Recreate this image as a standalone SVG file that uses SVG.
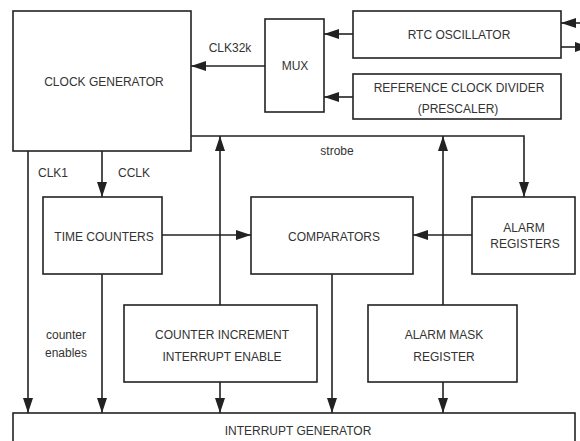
<svg xmlns="http://www.w3.org/2000/svg" width="580" height="441" viewBox="0 0 580 441">
<style>
.box{fill:#fff;stroke:#222;stroke-width:1.6}
.ln{fill:none;stroke:#222;stroke-width:1.6}
.t{font-family:"Liberation Sans",Arial,sans-serif;font-size:12px;fill:#333;text-anchor:middle}
</style>
<defs>
<marker id="ah" viewBox="0 0 15 10" refX="15" refY="5" markerWidth="15" markerHeight="10" orient="auto" markerUnits="userSpaceOnUse">
<path d="M0,0 L15,5 L0,10 z" fill="#222"/>
</marker>
</defs>
<rect width="580" height="441" fill="#fff"/>
<g id="connectors">
<path class="ln" d="M265,66 L191,66" marker-end="url(#ah)"/>
<path class="ln" d="M353,34 L324,34" marker-end="url(#ah)"/>
<path class="ln" d="M353,97 L324,97" marker-end="url(#ah)"/>
<path class="ln" d="M580,23 L561,23" marker-end="url(#ah)"/>
<path class="ln" d="M561,47 L590,47" marker-end="url(#ah)"/>
<path class="ln" d="M191,136 L524,136 L524,197" marker-end="url(#ah)"/>
<path class="ln" d="M102,151 L102,197" marker-end="url(#ah)"/>
<path class="ln" d="M28,151 L28,413" marker-end="url(#ah)"/>
<path class="ln" d="M162,235 L251,235" marker-end="url(#ah)"/>
<path class="ln" d="M472,235 L413,235" marker-end="url(#ah)"/>
<path class="ln" d="M220,305 L220,136" marker-end="url(#ah)"/>
<path class="ln" d="M443,305 L443,136" marker-end="url(#ah)"/>
<path class="ln" d="M102,274 L102,413" marker-end="url(#ah)"/>
<path class="ln" d="M220,382 L220,413" marker-end="url(#ah)"/>
<path class="ln" d="M332,274 L332,413" marker-end="url(#ah)"/>
<path class="ln" d="M443,382 L443,413" marker-end="url(#ah)"/>
<text class="t" x="230" y="52">CLK32k</text>
<text class="t" x="337" y="155">strobe</text>
<text class="t" x="53" y="177">CLK1</text>
<text class="t" x="134" y="177">CCLK</text>
<text class="t" x="66" y="339">counter</text>
<text class="t" x="66" y="357">enables</text>
</g>
<g id="clock-generator">
<rect class="box" x="13" y="11" width="178" height="140"/>
<text class="t" x="104" y="86">CLOCK GENERATOR</text>
</g>
<g id="mux">
<rect class="box" x="265" y="19" width="59" height="93"/>
<text class="t" x="295" y="70">MUX</text>
</g>
<g id="rtc-oscillator">
<rect class="box" x="353" y="11" width="208" height="47"/>
<text class="t" x="459" y="39">RTC OSCILLATOR</text>
</g>
<g id="reference-clock-divider">
<rect class="box" x="353" y="74" width="208" height="45"/>
<text class="t" x="459" y="92">REFERENCE CLOCK DIVIDER</text>
<text class="t" x="458" y="113">(PRESCALER)</text>
</g>
<g id="time-counters">
<rect class="box" x="43" y="197" width="119" height="77"/>
<text class="t" x="104" y="241">TIME COUNTERS</text>
</g>
<g id="comparators">
<rect class="box" x="251" y="197" width="162" height="77"/>
<text class="t" x="334" y="241">COMPARATORS</text>
</g>
<g id="alarm-registers">
<rect class="box" x="472" y="197" width="103" height="77"/>
<text class="t" x="524" y="232">ALARM</text>
<text class="t" x="525" y="248">REGISTERS</text>
</g>
<g id="counter-increment">
<rect class="box" x="124" y="305" width="193" height="77"/>
<text class="t" x="222" y="339">COUNTER INCREMENT</text>
<text class="t" x="222" y="361">INTERRUPT ENABLE</text>
</g>
<g id="alarm-mask-register">
<rect class="box" x="368" y="305" width="149" height="77"/>
<text class="t" x="444" y="339">ALARM MASK</text>
<text class="t" x="444" y="361">REGISTER</text>
</g>
<g id="interrupt-generator">
<rect class="box" x="13" y="413" width="562" height="40"/>
<text class="t" x="298" y="435">INTERRUPT GENERATOR</text>
</g>
</svg>
